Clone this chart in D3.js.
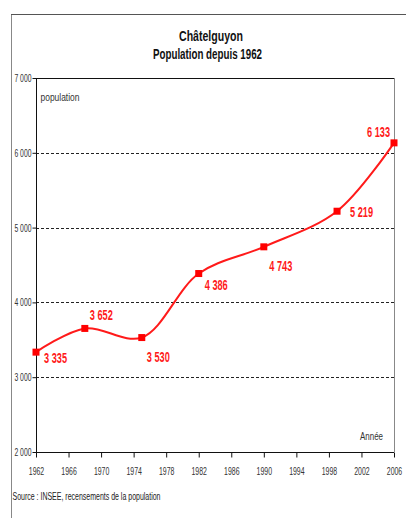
<!DOCTYPE html>
<html>
<head>
<meta charset="utf-8">
<script src="https://cdn.jsdelivr.net/npm/d3@7"></script>
<style>
  html, body { margin: 0; padding: 0; background: #fff; }
  svg { display: block; }
  text { font-family: "Liberation Sans", Arial, sans-serif; }
</style>
</head>
<body>
<svg id="chart" width="406" height="518"></svg>
<script>
// Census years and population counts
const years = [1962, 1968, 1975, 1982, 1990, 1999, 2006];
const population = [3335, 3652, 3530, 4386, 4743, 5219, 6133];
const xTicks = [1962, 1966, 1970, 1974, 1978, 1982, 1986, 1990, 1994, 1998, 2002, 2006];
const yTicks = [2000, 3000, 4000, 5000, 6000, 7000];
const fmt = v => d3.format(",")(v).replace(/,/g, " ");

// label placement relative to each point: [dx, dy, anchor]
const labelOffsets = [[8, 6, "start"], [5, -13.5, "start"], [5, 19, "start"],
                      [6, 11, "start"], [5.5, 19, "start"], [13, 1, "start"], [-4, -10.5, "end"]];

// condensed look: shrink text horizontally to a fraction of its natural width
function squeeze(sel, k) {
  sel.each(function () {
    const w = this.getComputedTextLength();
    d3.select(this).attr("textLength", w * k).attr("lengthAdjust", "spacingAndGlyphs");
  });
  return sel;
}
function fitWidth(sel, w) {
  return sel.attr("textLength", w).attr("lengthAdjust", "spacingAndGlyphs");
}

const svg = d3.select("#chart");
const plotLeft = 36, plotRight = 394, plotTop = 78, plotBottom = 452;

const x = d3.scaleLinear().domain([1962, 2006]).range([plotLeft, plotRight]);
const y = d3.scaleLinear().domain([2000, 7000]).range([plotBottom, plotTop]);

// outer frame
svg.append("line").attr("x1", 11.5).attr("x2", 11.5).attr("y1", 14).attr("y2", 518)
  .attr("stroke", "#888").attr("stroke-width", 1);
svg.append("line").attr("x1", 11).attr("x2", 406).attr("y1", 14.5).attr("y2", 14.5)
  .attr("stroke", "#555").attr("stroke-width", 1);

// titles
fitWidth(svg.append("text").attr("x", 211).attr("y", 41).attr("text-anchor", "middle")
  .attr("font-size", 15.5).attr("font-weight", "bold").attr("fill", "#111").text("Châtelguyon"), 64);
fitWidth(svg.append("text").attr("x", 207.5).attr("y", 58.5).attr("text-anchor", "middle")
  .attr("font-size", 14).attr("font-weight", "bold").attr("fill", "#111").text("Population depuis 1962"), 109);

// gridlines
svg.append("g").selectAll("line").data(yTicks.filter(v => v > 2000 && v < 7000)).join("line")
  .attr("x1", plotLeft).attr("x2", plotRight)
  .attr("y1", d => Math.round(y(d)) + 0.5).attr("y2", d => Math.round(y(d)) + 0.5)
  .attr("stroke", "#222").attr("stroke-dasharray", "3,2").attr("stroke-width", 1);

// plot border top and right
svg.append("line").attr("x1", plotLeft).attr("x2", plotRight).attr("y1", plotTop + 0.5).attr("y2", plotTop + 0.5)
  .attr("stroke", "#111").attr("stroke-width", 1.2);
svg.append("line").attr("x1", plotRight + 0.5).attr("x2", plotRight + 0.5).attr("y1", plotTop).attr("y2", plotBottom)
  .attr("stroke", "#888").attr("stroke-width", 1);

// y axis
const yAxis = d3.axisLeft(y).tickValues(yTicks).tickSize(4).tickPadding(1).tickFormat(fmt);
const gy = svg.append("g").attr("transform", `translate(${plotLeft + 0.5},0)`).call(yAxis);
gy.selectAll("text").attr("font-size", 11).attr("fill", "#333")
  .style("font-family", "'Liberation Sans', sans-serif");
squeeze(gy.selectAll("text"), 0.62);
gy.selectAll("line, path").attr("stroke", "#111");
gy.select(".domain").attr("d", `M0,${plotTop}V${plotBottom}`);

// x axis
const xAxis = d3.axisBottom(x).tickValues(xTicks).tickSize(5).tickPadding(10).tickFormat(d3.format("d"));
const gx = svg.append("g").attr("transform", `translate(0,${plotBottom + 0.5})`).call(xAxis);
gx.selectAll("text").attr("font-size", 11).attr("fill", "#333")
  .style("font-family", "'Liberation Sans', sans-serif");
squeeze(gx.selectAll("text"), 0.63);
gx.selectAll("line, path").attr("stroke", "#111");
gx.select(".domain").attr("d", `M${plotLeft},0H${plotRight}`);

// axis titles
fitWidth(svg.append("text").attr("x", 40.5).attr("y", 101).attr("font-size", 11.5).attr("fill", "#333")
  .text("population"), 39);
fitWidth(svg.append("text").attr("x", 383).attr("y", 440).attr("text-anchor", "end").attr("font-size", 11.5)
  .attr("fill", "#333").text("Année"), 23);

// series line
const pts = years.map((yr, i) => [yr, population[i]]);
const line = d3.line().x(d => x(d[0])).y(d => y(d[1])).curve(d3.curveCatmullRom.alpha(0.5));
svg.append("path").datum(pts).attr("d", line)
  .attr("fill", "none").attr("stroke", "#ff1a1a").attr("stroke-width", 2);

// markers
svg.append("g").selectAll("rect").data(pts).join("rect")
  .attr("x", d => x(d[0]) - 3.5).attr("y", d => y(d[1]) - 3.5)
  .attr("width", 7).attr("height", 7).attr("fill", "#ff0000");

// value labels
const labels = svg.append("g").selectAll("text").data(pts).join("text")
  .attr("x", (d, i) => x(d[0]) + labelOffsets[i][0])
  .attr("y", (d, i) => y(d[1]) + labelOffsets[i][1])
  .attr("dy", "0.35em")
  .attr("text-anchor", (d, i) => labelOffsets[i][2])
  .attr("font-size", 14.5).attr("font-weight", "bold").attr("fill", "#ff1a1a")
  .text(d => fmt(d[1]));
fitWidth(labels, 23);

// source note
fitWidth(svg.append("text").attr("x", 12.5).attr("y", 500).attr("font-size", 11).attr("fill", "#222")
  .text("Source : INSEE, recensements de la population"), 148);
</script>
</body>
</html>
